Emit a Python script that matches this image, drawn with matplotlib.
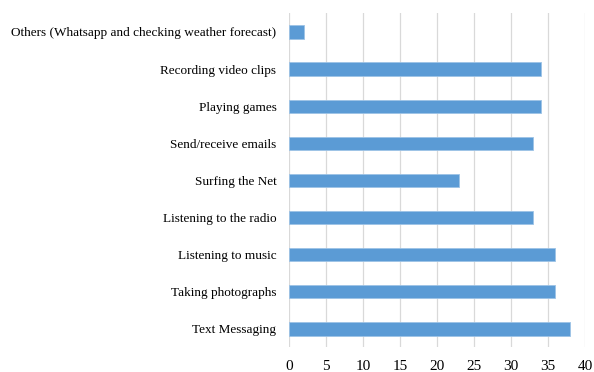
import matplotlib
matplotlib.use("Agg")
import matplotlib.pyplot as plt

# --- data (bottom to top) ---
categories = [
    "Text Messaging",
    "Taking photographs",
    "Listening to music",
    "Listening to the radio",
    "Surfing the Net",
    "Send/receive emails",
    "Playing games",
    "Recording video clips",
    "Others (Whatsapp and checking weather forecast)",
]
counts = [38, 36, 36, 33, 23, 33, 34, 34, 2]
x_ticks = [0, 5, 10, 15, 20, 25, 30, 35, 40]

plt.rcParams['font.family'] = ['Liberation Serif', 'DejaVu Serif']

fig = plt.figure(figsize=(5.94, 3.72), dpi=100)
ax = fig.add_axes([0.4865, 0.066, 0.4985, 0.898])

ax.barh(range(len(categories)), counts, height=0.36,
        color='#5B9BD5', edgecolor='#9DC3E6', linewidth=0.6, zorder=3)

ax.set_xlim(0, 40)
ax.set_ylim(-0.5, len(categories) - 0.5)
ax.set_xticks(x_ticks)
ax.set_yticks(range(len(categories)))
ax.set_yticklabels(categories)
ax.grid(axis='x', color='#D9D9D9', linewidth=0.9, zorder=0)
for s in ax.spines.values():
    s.set_visible(False)
ax.tick_params(axis='both', length=0, labelsize=9.5, colors='black')
ax.tick_params(axis='x', labelsize=11, pad=9)
ax.tick_params(axis='y', pad=9)

fig.savefig("out.png", dpi=100)
